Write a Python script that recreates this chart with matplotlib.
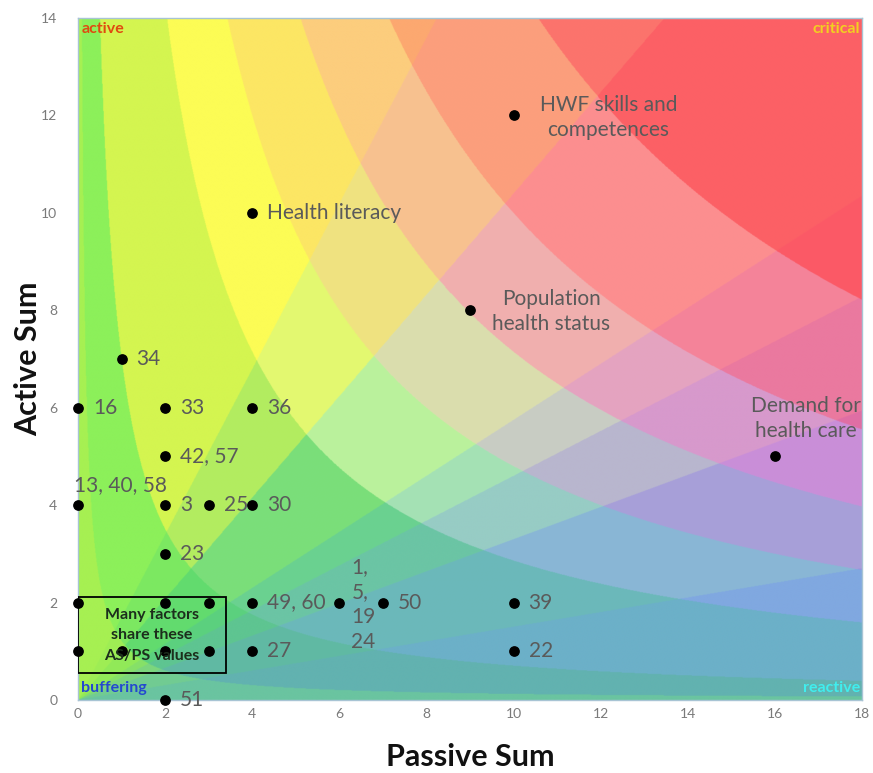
import numpy as np
import matplotlib
matplotlib.use("Agg")
import matplotlib.pyplot as plt
from matplotlib.colors import to_rgb
from matplotlib.patches import Rectangle

plt.rcParams["font.family"] = ["Lato", "DejaVu Sans"]

# background: impact bands (AS * PS) mixed with quotient bands (AS / PS)
p_edges = [1.2, 7.0, 28.6, 48.0, 71.5, 100.0, 148.0]
warm_colors = ["#a6f052", "#8cf05a", "#d4f550", "#fcfc55", "#fce664", "#fccd7d",
               "#fca870", "#fc8070"]
mid_colors = ["#8ee85a", "#5ad872", "#6ada82", "#aef0aa", "#d4dcbc", "#eeaab8",
              "#fc8a96", "#fc5a64"]
cool_colors = ["#6ac4a0", "#62b2b0", "#6cb0c8", "#80a8e0", "#9c90e0", "#c088e0",
               "#d868a8", "#f85870"]
q_edges = [0.15, 0.33, 0.46, 0.575, 1.04, 1.7]
q_mix = [1.0, 0.9, 0.75, 0.6, 0.42, 0.16, 0.0]

# factors (passive sum, active sum)
passive = [0, 2, 3, 0, 1, 2, 3, 1, 0, 2, 4, 2, 0, 2, 3, 4, 2, 4, 6, 7, 10, 10, 4, 2,
           4, 10, 9, 16]
active = [2, 2, 2, 1, 1, 1, 1, 7, 6, 6, 6, 5, 4, 4, 4, 4, 3, 2, 2, 2, 2, 1, 1, 0,
          10, 12, 8, 5]

label_x = [1, 0, 2, 4, 2, 0, 2, 3, 4, 2, 4, 6, 7, 10, 10, 4, 2,
           4, 10, 9, 16]
label_y = [7, 6, 6, 6, 5, 4, 4, 4, 4, 3, 2, 2, 2, 2, 1, 1, 0,
           10, 12, 8, 5]
label_text = ["34", "16", "33", "36", "42, 57", "13, 40, 58", "3", "25", "30", "23",
              "49, 60", "1,\n5,\n19\n24", "50", "39", "22", "27", "51",
              "Health literacy", "HWF skills and\ncompetences",
              "Population\nhealth status", "Demand for\nhealth care"]
# text offsets in pixels and alignment
label_off = [(15, 0)] * 5 + [(-4, 20)] + [(15, 0)] * 5 + [(12, -2)] + [(15, 0)] * 5 + \
            [(15, 0), (95, -2), (81, -1), (31, 38)]
label_ha = ["left"] * 18 + ["center"] * 3

fig = plt.figure(figsize=(8.73, 7.73), dpi=100)
ax = fig.add_axes([78 / 873, 1 - 700 / 773, 784 / 873, 682 / 773])

xs = np.linspace(0, 18, 1400)
ys = np.linspace(0, 14, 1100)
gx, gy = np.meshgrid(xs, ys)
prod = gx * gy
quot = np.where(gx > 0, gy / np.where(gx > 0, gx, 1), np.inf)
pi = np.digitize(prod, p_edges)
qi = np.digitize(quot, q_edges)
warm = np.array([to_rgb(c) for c in warm_colors])
mid = np.array([to_rgb(c) for c in mid_colors])
cool = np.array([to_rgb(c) for c in cool_colors])
t = np.array(q_mix)[qi][..., None]
lo = np.clip(t * 2, 0, 1)
hi = np.clip(t * 2 - 1, 0, 1)
rgb = np.where(t <= 0.5,
               (1 - lo) * warm[pi] + lo * mid[pi],
               (1 - hi) * mid[pi] + hi * cool[pi])
ax.imshow(rgb, origin="lower", extent=(0, 18, 0, 14), aspect="auto",
          interpolation="bilinear", zorder=0)

ax.scatter(passive, active, s=45, c="black", zorder=3, clip_on=False)

for x, y, txt, off, ha in zip(label_x, label_y, label_text, label_off, label_ha):
    ax.annotate(txt, (x, y), xytext=off, textcoords="offset pixels", ha=ha,
                va="center", fontsize=15, color="#5a5a5a", linespacing=1.3,
                zorder=4, annotation_clip=False)

ax.add_patch(Rectangle((0, 0.55), 3.4, 1.56, fill=False, ec="black", lw=1.3, zorder=4))
ax.text(1.7, 1.33, "Many factors\nshare these\nAS/PS values", ha="center", va="center",
        fontsize=11.5, fontweight="bold", color="#1c2e1c", linespacing=1.6, zorder=5)

ax.text(0.08, 13.78, "active", ha="left", va="center", fontsize=11.5, fontweight="bold",
        color="#e04a10")
ax.text(17.95, 13.78, "critical", ha="right", va="center", fontsize=11.5,
        fontweight="bold", color="#f2d020")
ax.text(0.08, 0.25, "buffering", ha="left", va="center", fontsize=11.5,
        fontweight="bold", color="#2448d0")
ax.text(17.95, 0.25, "reactive", ha="right", va="center", fontsize=11.5,
        fontweight="bold", color="#40eeee")

ax.set_xlim(0, 18)
ax.set_ylim(0, 14)
ax.set_xticks(range(0, 19, 2))
ax.set_yticks(range(0, 15, 2))
ax.tick_params(length=0, labelsize=10, labelcolor="#7a7a7a")
ax.tick_params(axis="y", pad=15)
ax.tick_params(axis="x", pad=6)
for s in ax.spines.values():
    s.set_color("#a8c4d4")
    s.set_linewidth(1)

ax.set_xlabel("Passive Sum", fontsize=22, fontweight="bold", color="#111111", labelpad=16)
ax.set_ylabel("Active Sum", fontsize=22, fontweight="bold", color="#111111", labelpad=-1)

fig.savefig("out.png", dpi=100)
